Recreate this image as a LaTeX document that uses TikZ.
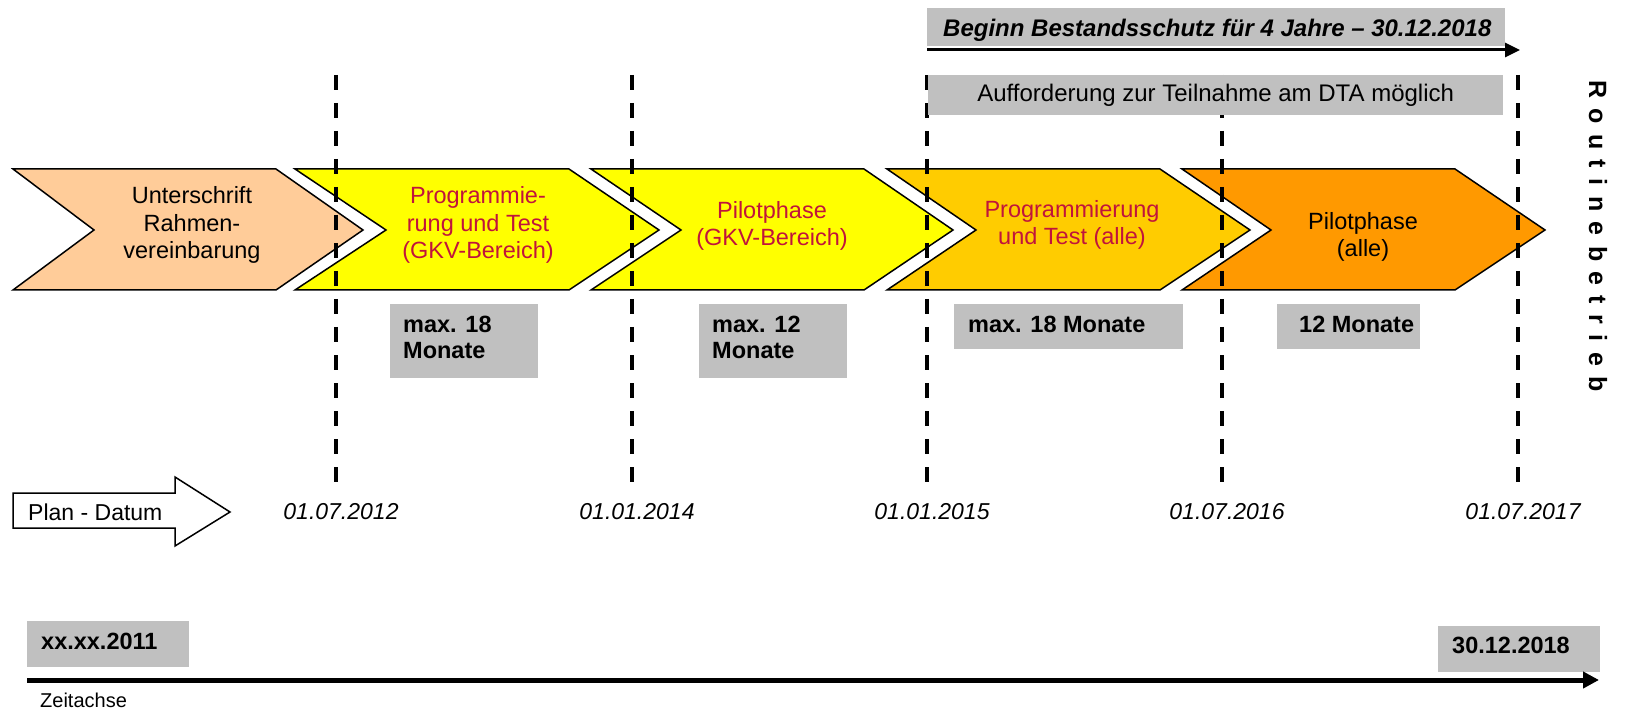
\documentclass[tikz,border=0pt]{standalone}
\usepackage{fontspec}
\setmainfont{Liberation Sans}
\usetikzlibrary{arrows.meta}
\definecolor{peach}{HTML}{FFCC99}
\definecolor{yel}{HTML}{FFFF00}
\definecolor{gold}{HTML}{FFCC00}
\definecolor{orng}{HTML}{FF9900}
\definecolor{boxgrey}{HTML}{C0C0C0}
\definecolor{redtext}{RGB}{192,20,60}
\newcommand\lsp{\hspace{10.4pt}}
\begin{document}
\begin{tikzpicture}[x=1pt,y=-1pt]
\tikzset{
 chev/.style={draw=black, line width=1.5pt, line join=miter},
 vline/.style={line width=4.5pt, dash pattern=on 15pt off 13pt},
 gbox/.style={fill=boxgrey, draw=none, inner sep=0, anchor=north west},
 ctext/.style={align=center, font=\fontsize{23.5}{27.5}\selectfont, inner sep=0},
 btext/.style={anchor=north west, inner sep=0, align=left, font=\bfseries\fontsize{23.5}{26.5}\selectfont},
 datel/.style={font=\itshape\fontsize{23}{27}\selectfont, inner sep=0},
}
\useasboundingbox (0,0) rectangle (1625,711);
\fill[white] (0,0) rectangle (1625,711);

% chevrons
\draw[chev, fill=peach] (13,169) -- (276,169) -- (363,230) -- (276,290) -- (13,290) -- (94,230) -- cycle;
\draw[chev, fill=yel] (295,169) -- (569,169) -- (659,230) -- (569,290) -- (295,290) -- (386,230) -- cycle;
\draw[chev, fill=yel] (591,169) -- (864,169) -- (953,230) -- (864,290) -- (591,290) -- (681,230) -- cycle;
\draw[chev, fill=gold] (887,169) -- (1160,169) -- (1250,230) -- (1160,290) -- (887,290) -- (976,230) -- cycle;
\draw[chev, fill=orng] (1182,169) -- (1455,169) -- (1545,230) -- (1455,290) -- (1182,290) -- (1271,230) -- cycle;

\node[ctext] (c1) at (192,225) {Unterschrift\\Rahmen-\\vereinbarung};
\node[ctext, text=redtext] (c2) at (478,225) {Programmie-\\rung und Test\\(GKV-Bereich)};
\node[ctext, text=redtext] (c3) at (772,226) {Pilotphase\\(GKV-Bereich)};
\node[ctext, text=redtext] (c4) at (1072,225) {Programmierung\\und Test (alle)};
\node[ctext] (c5) at (1363,237) {Pilotphase\\(alle)};

% dashed milestone lines
\foreach \i/\x in {1/336,2/632,3/927,4/1222,5/1518}{
  \coordinate (t\i) at (\x,75);
  \coordinate (d\i) at (\x,485);
  \draw[vline] (t\i) -- (d\i);
}

% top bar
\node[gbox, minimum width=578pt, minimum height=38pt] (beg) at (927,8) {};
\node[anchor=north west, inner sep=0, font=\bfseries\itshape\fontsize{24}{27}\selectfont] (begt) at (943,19) {Beginn Bestandsschutz für 4 Jahre – 30.12.2018};
\coordinate (ba) at (927,50);
\coordinate (bb) at (1520,50);
\draw[line width=3pt, -{Triangle[length=15pt,width=14pt]}] (ba) -- (bb);

\node[gbox, minimum width=575pt, minimum height=40pt] (auf) at (928,75) {};
\node[inner sep=0, font=\fontsize{24}{27}\selectfont] (auft) at (auf.center) {Aufforderung zur Teilnahme am DTA möglich};

% Routinebetrieb
\node[rotate=-90, anchor=west, inner sep=0, font=\bfseries\fontsize{25}{28}\selectfont] (rb) at (1598,80)
 {R\lsp o\lsp u\lsp t\lsp i\lsp n\lsp e\lsp b\lsp e\lsp t\lsp r\lsp i\lsp e\lsp b};

% duration boxes
\node[gbox, minimum width=148pt, minimum height=74pt] (m1) at (390,304) {};
\node[btext] (m1t) at (403,315.5) {max. 18\\Monate};
\node[gbox, minimum width=148pt, minimum height=74pt] (m2) at (699,304) {};
\node[btext] (m2t) at (712,315.5) {max. 12\\Monate};
\node[gbox, minimum width=229pt, minimum height=45pt] (m3) at (954,304) {};
\node[btext] (m3t) at (968,315.5) {max. 18 Monate};
\node[gbox, minimum width=143pt, minimum height=45pt] (m4) at (1277,304) {};
\node[btext] (m4t) at (1299,315.5) {12 Monate};

% Plan - Datum arrow
\draw[line width=1.5pt, fill=white, line join=miter] (13,493) -- (175,493) -- (175,477) -- (230,512) -- (175,546) -- (175,528) -- (13,528) -- cycle;
\node[anchor=west, inner sep=0, font=\fontsize{23}{27}\selectfont] (plan) at (28,512) {Plan - Datum};

% dates
\node[datel] (dt1) at (341,512) {01.07.2012};
\node[datel] (dt2) at (637,512) {01.01.2014};
\node[datel] (dt3) at (932,512) {01.01.2015};
\node[datel] (dt4) at (1227,512) {01.07.2016};
\node[datel] (dt5) at (1523,512) {01.07.2017};

% time axis
\node[gbox, minimum width=162pt, minimum height=46pt] (xb) at (27,621) {};
\node[btext] (xbt) at (41,633) {xx.xx.2011};
\node[gbox, minimum width=162pt, minimum height=46pt] (eb) at (1438,626) {};
\node[btext] (ebt) at (1452,637) {30.12.2018};
\coordinate (za) at (27,680);
\coordinate (zb) at (1599,680);
\draw[line width=5pt, -{Triangle[length=16pt,width=16pt]}] (za) -- (zb);
\node[anchor=west, inner sep=0, font=\fontsize{20}{24}\selectfont] (zeit) at (40,700) {Zeitachse};
\end{tikzpicture}
\end{document}
